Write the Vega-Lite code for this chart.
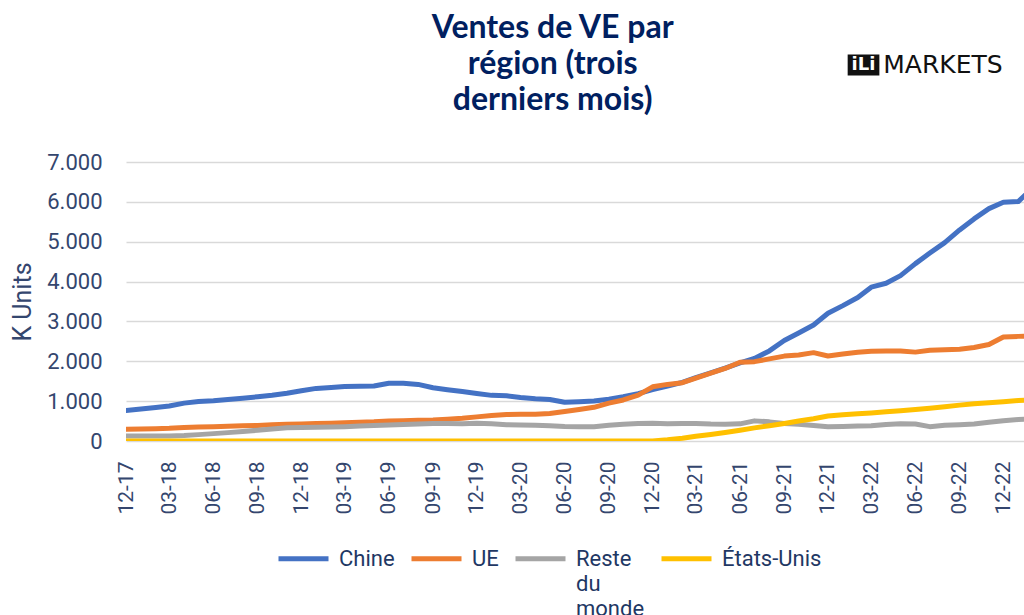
{
  "$schema": "https://vega.github.io/schema/vega-lite/v6.json",
  "width": 898,
  "height": 279,
  "autosize": {"type": "none"},
  "padding": {"left": 126, "top": 162, "right": 0, "bottom": 174},
  "background": "white",
  "config": {"view": {"stroke": null}},
  "resolve": {"axis": {"x": "independent", "y": "independent"}},
  "data": {
    "values": [
      {"mois": "2017-12-01", "Chine": 765, "UE": 293, "Reste du monde": 126, "États-Unis": 0},
      {"mois": "2018-01-01", "Chine": 800, "UE": 300, "Reste du monde": 126, "États-Unis": 0},
      {"mois": "2018-02-01", "Chine": 840, "UE": 310, "Reste du monde": 126, "États-Unis": 0},
      {"mois": "2018-03-01", "Chine": 880, "UE": 320, "Reste du monde": 128, "États-Unis": 0},
      {"mois": "2018-04-01", "Chine": 950, "UE": 340, "Reste du monde": 135, "États-Unis": 0},
      {"mois": "2018-05-01", "Chine": 990, "UE": 350, "Reste du monde": 160, "États-Unis": 0},
      {"mois": "2018-06-01", "Chine": 1010, "UE": 358, "Reste du monde": 185, "États-Unis": 0},
      {"mois": "2018-07-01", "Chine": 1040, "UE": 367, "Reste du monde": 210, "États-Unis": 0},
      {"mois": "2018-08-01", "Chine": 1075, "UE": 380, "Reste du monde": 240, "États-Unis": 0},
      {"mois": "2018-09-01", "Chine": 1110, "UE": 390, "Reste du monde": 270, "États-Unis": 0},
      {"mois": "2018-10-01", "Chine": 1150, "UE": 405, "Reste du monde": 300, "États-Unis": 0},
      {"mois": "2018-11-01", "Chine": 1200, "UE": 419, "Reste du monde": 330, "États-Unis": 0},
      {"mois": "2018-12-01", "Chine": 1260, "UE": 428, "Reste du monde": 340, "États-Unis": 0},
      {"mois": "2019-01-01", "Chine": 1320, "UE": 437, "Reste du monde": 345, "États-Unis": 0},
      {"mois": "2019-02-01", "Chine": 1340, "UE": 447, "Reste du monde": 350, "États-Unis": 0},
      {"mois": "2019-03-01", "Chine": 1365, "UE": 460, "Reste du monde": 358, "États-Unis": 0},
      {"mois": "2019-04-01", "Chine": 1372, "UE": 470, "Reste du monde": 375, "États-Unis": 0},
      {"mois": "2019-05-01", "Chine": 1380, "UE": 480, "Reste du monde": 390, "États-Unis": 0},
      {"mois": "2019-06-01", "Chine": 1450, "UE": 500, "Reste du monde": 402, "États-Unis": 0},
      {"mois": "2019-07-01", "Chine": 1450, "UE": 510, "Reste du monde": 415, "États-Unis": 0},
      {"mois": "2019-08-01", "Chine": 1420, "UE": 518, "Reste du monde": 425, "États-Unis": 0},
      {"mois": "2019-09-01", "Chine": 1335, "UE": 527, "Reste du monde": 440, "États-Unis": 0},
      {"mois": "2019-10-01", "Chine": 1285, "UE": 545, "Reste du monde": 440, "États-Unis": 0},
      {"mois": "2019-11-01", "Chine": 1240, "UE": 569, "Reste du monde": 430, "États-Unis": 0},
      {"mois": "2019-12-01", "Chine": 1190, "UE": 605, "Reste du monde": 443, "États-Unis": 0},
      {"mois": "2020-01-01", "Chine": 1145, "UE": 640, "Reste du monde": 430, "États-Unis": 0},
      {"mois": "2020-02-01", "Chine": 1135, "UE": 662, "Reste du monde": 410, "États-Unis": 0},
      {"mois": "2020-03-01", "Chine": 1090, "UE": 669, "Reste du monde": 402, "États-Unis": 0},
      {"mois": "2020-04-01", "Chine": 1060, "UE": 669, "Reste du monde": 395, "États-Unis": 0},
      {"mois": "2020-05-01", "Chine": 1040, "UE": 690, "Reste du monde": 385, "États-Unis": 0},
      {"mois": "2020-06-01", "Chine": 971, "UE": 740, "Reste du monde": 365, "États-Unis": 0},
      {"mois": "2020-07-01", "Chine": 985, "UE": 790, "Reste du monde": 355, "États-Unis": 0},
      {"mois": "2020-08-01", "Chine": 1005, "UE": 845, "Reste du monde": 360, "États-Unis": 0},
      {"mois": "2020-09-01", "Chine": 1050, "UE": 950, "Reste du monde": 395, "États-Unis": 0},
      {"mois": "2020-10-01", "Chine": 1110, "UE": 1030, "Reste du monde": 420, "États-Unis": 0},
      {"mois": "2020-11-01", "Chine": 1190, "UE": 1150, "Reste du monde": 440, "États-Unis": 0},
      {"mois": "2020-12-01", "Chine": 1290, "UE": 1360, "Reste du monde": 444, "États-Unis": 0},
      {"mois": "2021-01-01", "Chine": 1380, "UE": 1420, "Reste du monde": 435, "États-Unis": 30},
      {"mois": "2021-02-01", "Chine": 1470, "UE": 1464, "Reste du monde": 440, "États-Unis": 70},
      {"mois": "2021-03-01", "Chine": 1590, "UE": 1580, "Reste du monde": 440, "États-Unis": 120},
      {"mois": "2021-04-01", "Chine": 1710, "UE": 1700, "Reste du monde": 425, "États-Unis": 165},
      {"mois": "2021-05-01", "Chine": 1830, "UE": 1820, "Reste du monde": 420, "États-Unis": 215},
      {"mois": "2021-06-01", "Chine": 1960, "UE": 1975, "Reste du monde": 430, "États-Unis": 270},
      {"mois": "2021-07-01", "Chine": 2070, "UE": 1991, "Reste du monde": 505, "États-Unis": 330},
      {"mois": "2021-08-01", "Chine": 2260, "UE": 2060, "Reste du monde": 480, "États-Unis": 385},
      {"mois": "2021-09-01", "Chine": 2520, "UE": 2130, "Reste du monde": 440, "États-Unis": 440},
      {"mois": "2021-10-01", "Chine": 2710, "UE": 2160, "Reste du monde": 420, "États-Unis": 500},
      {"mois": "2021-11-01", "Chine": 2912, "UE": 2217, "Reste du monde": 390, "États-Unis": 560},
      {"mois": "2021-12-01", "Chine": 3205, "UE": 2134, "Reste du monde": 360, "États-Unis": 628},
      {"mois": "2022-01-01", "Chine": 3397, "UE": 2184, "Reste du monde": 365, "États-Unis": 660},
      {"mois": "2022-02-01", "Chine": 3600, "UE": 2226, "Reste du monde": 377, "États-Unis": 685},
      {"mois": "2022-03-01", "Chine": 3860, "UE": 2250, "Reste du monde": 380, "États-Unis": 705},
      {"mois": "2022-04-01", "Chine": 3958, "UE": 2255, "Reste du monde": 415, "États-Unis": 735},
      {"mois": "2022-05-01", "Chine": 4150, "UE": 2260, "Reste du monde": 430, "États-Unis": 760},
      {"mois": "2022-06-01", "Chine": 4450, "UE": 2230, "Reste du monde": 425, "États-Unis": 790},
      {"mois": "2022-07-01", "Chine": 4715, "UE": 2275, "Reste du monde": 360, "États-Unis": 822},
      {"mois": "2022-08-01", "Chine": 4978, "UE": 2290, "Reste du monde": 394, "États-Unis": 862},
      {"mois": "2022-09-01", "Chine": 5296, "UE": 2301, "Reste du monde": 410, "États-Unis": 900},
      {"mois": "2022-10-01", "Chine": 5572, "UE": 2345, "Reste du monde": 425, "États-Unis": 935},
      {"mois": "2022-11-01", "Chine": 5830, "UE": 2420, "Reste du monde": 470, "États-Unis": 960},
      {"mois": "2022-12-01", "Chine": 5991, "UE": 2610, "Reste du monde": 510, "États-Unis": 985},
      {"mois": "2023-01-01", "Chine": 6007, "UE": 2625, "Reste du monde": 540, "États-Unis": 1015},
      {"mois": "2023-02-01", "Chine": 6360, "UE": 2640, "Reste du monde": 560, "États-Unis": 1040}
    ]
  },
  "layer": [
    {
      "transform": [{"fold": ["Chine", "UE", "Reste du monde", "États-Unis"], "as": ["region", "value"]}],
      "mark": {"type": "line", "strokeWidth": 5, "clip": true, "strokeCap": "round", "strokeJoin": "round"},
      "encoding": {
        "x": {
          "field": "mois",
          "type": "temporal",
          "scale": {"type": "utc", "domain": [{"year": 2017, "month": 12, "date": 1, "utc": true}, {"year": 2023, "month": 1, "date": 13, "utc": true}]},
          "axis": {
            "title": null,
            "format": "%m-%y",
            "values": [
              {"year": 2017, "month": 12, "date": 1, "utc": true},
              {"year": 2018, "month": 3, "date": 1, "utc": true},
              {"year": 2018, "month": 6, "date": 1, "utc": true},
              {"year": 2018, "month": 9, "date": 1, "utc": true},
              {"year": 2018, "month": 12, "date": 1, "utc": true},
              {"year": 2019, "month": 3, "date": 1, "utc": true},
              {"year": 2019, "month": 6, "date": 1, "utc": true},
              {"year": 2019, "month": 9, "date": 1, "utc": true},
              {"year": 2019, "month": 12, "date": 1, "utc": true},
              {"year": 2020, "month": 3, "date": 1, "utc": true},
              {"year": 2020, "month": 6, "date": 1, "utc": true},
              {"year": 2020, "month": 9, "date": 1, "utc": true},
              {"year": 2020, "month": 12, "date": 1, "utc": true},
              {"year": 2021, "month": 3, "date": 1, "utc": true},
              {"year": 2021, "month": 6, "date": 1, "utc": true},
              {"year": 2021, "month": 9, "date": 1, "utc": true},
              {"year": 2021, "month": 12, "date": 1, "utc": true},
              {"year": 2022, "month": 3, "date": 1, "utc": true},
              {"year": 2022, "month": 6, "date": 1, "utc": true},
              {"year": 2022, "month": 9, "date": 1, "utc": true},
              {"year": 2022, "month": 12, "date": 1, "utc": true}
            ],
            "labelAngle": 270,
            "labelFont": "Roboto",
            "labelFontSize": 21,
            "labelColor": "#34466E",
            "labelPadding": 20,
            "labelOverlap": false,
            "labelFlush": false,
            "ticks": false,
            "domain": false,
            "grid": false
          }
        },
        "y": {
          "field": "value",
          "type": "quantitative",
          "scale": {"domain": [0, 7000], "nice": false},
          "axis": {
            "title": "K Units",
            "titleFont": "Roboto",
            "titleFontSize": 25,
            "titleFontWeight": "normal",
            "titleColor": "#34466E",
            "titlePadding": 11,
            "values": [0, 1000, 2000, 3000, 4000, 5000, 6000, 7000],
            "labelExpr": "replace(format(datum.value, ','), ',', '.')",
            "labelFont": "Roboto",
            "labelFontSize": 22,
            "labelColor": "#34466E",
            "labelPadding": 24,
            "labelOverlap": false,
            "ticks": false,
            "domain": false,
            "grid": true,
            "gridColor": "#D9D9D9",
            "gridWidth": 1.5
          }
        },
        "color": {
          "field": "region",
          "type": "nominal",
          "scale": {
            "domain": ["Chine", "UE", "Reste du monde", "États-Unis"],
            "range": ["#4472C4", "#ED7D31", "#A5A5A5", "#FFC000"]
          },
          "legend": {
            "title": null,
            "orient": "none",
            "direction": "horizontal",
            "legendX": 150,
            "legendY": 369,
            "padding": 0,
            "symbolType": "stroke",
            "symbolSize": 2500,
            "symbolStrokeWidth": 5,
            "labelFont": "Roboto",
            "labelFontSize": 22,
            "labelColor": "#1F3864",
            "labelOffset": 8,
            "labelLimit": 0,
            "labelBaseline": "middle",
            "columnPadding": 6,
            "labelExpr": "datum.label == 'Reste du monde' ? ['Reste', 'du', 'monde'] : [datum.label, '', '']",
            "encode": {"labels": {"update": {"lineHeight": {"value": 25}}}}
          }
        }
      }
    },
    {
      "data": {"values": [{}]},
      "mark": {"type": "text", "text": ["Ventes de VE par", "région (trois", "derniers mois)"], "color": "#002060", "font": "Lato", "fontWeight": "bold", "fontSize": 32, "lineHeight": 36, "align": "center", "baseline": "alphabetic"},
      "encoding": {
        "x": {"datum": {"year": 2020, "month": 5, "date": 7, "utc": true}, "type": "temporal", "axis": null},
        "y": {"datum": 10123, "type": "quantitative", "axis": null}
      }
    },
    {
      "data": {"values": [{}]},
      "mark": {"type": "rect", "color": "#111111"},
      "encoding": {
        "x": {"datum": {"year": 2022, "month": 1, "date": 11, "utc": true}, "type": "temporal", "axis": null},
        "x2": {"datum": {"year": 2022, "month": 3, "date": 18, "utc": true}},
        "y": {"datum": 9700, "type": "quantitative", "axis": null},
        "y2": {"datum": 9170}
      }
    },
    {
      "data": {"values": [{}]},
      "mark": {"type": "text", "text": "iLi", "color": "white", "font": "DejaVu Sans", "fontWeight": "bold", "fontSize": 18, "align": "center", "baseline": "middle"},
      "encoding": {
        "x": {"datum": {"year": 2022, "month": 2, "date": 13, "utc": true}, "type": "temporal", "axis": null},
        "y": {"datum": 9440, "type": "quantitative", "axis": null}
      }
    },
    {
      "data": {"values": [{}]},
      "mark": {"type": "text", "text": "MARKETS", "color": "#111111", "font": "DejaVu Sans", "fontSize": 25, "align": "left", "baseline": "middle"},
      "encoding": {
        "x": {"datum": {"year": 2022, "month": 3, "date": 26, "utc": true}, "type": "temporal", "axis": null},
        "y": {"datum": 9440, "type": "quantitative", "axis": null}
      }
    }
  ]
}
